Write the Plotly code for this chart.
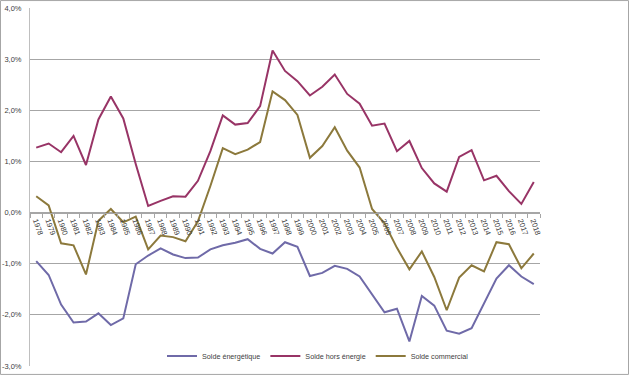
import plotly.graph_objects as go

years = [str(y) for y in range(1978, 2019)]

solde_energetique = [-0.95, -1.22, -1.80, -2.15, -2.13, -1.97, -2.20, -2.07, -1.01, -0.84,
                     -0.70, -0.82, -0.89, -0.88, -0.72, -0.64, -0.59, -0.52, -0.71, -0.80,
                     -0.58, -0.67, -1.24, -1.18, -1.04, -1.10, -1.25, -1.60, -1.95, -1.88,
                     -2.52, -1.63, -1.82, -2.31, -2.37, -2.26, -1.78, -1.29, -1.03, -1.25,
                     -1.40]

solde_hors_energie = [1.27, 1.35, 1.18, 1.50, 0.93, 1.82, 2.27, 1.84, 0.95, 0.13,
                      0.23, 0.32, 0.31, 0.62, 1.20, 1.90, 1.72, 1.75, 2.08, 3.17,
                      2.77, 2.57, 2.29, 2.46, 2.70, 2.32, 2.13, 1.70, 1.74, 1.20,
                      1.40, 0.87, 0.57, 0.41, 1.09, 1.22, 0.63, 0.72, 0.42, 0.17,
                      0.60]

solde_commercial = [0.32, 0.14, -0.60, -0.64, -1.21, -0.16, 0.07, -0.19, -0.08, -0.72,
                    -0.45, -0.48, -0.56, -0.17, 0.52, 1.26, 1.14, 1.23, 1.38, 2.37,
                    2.20, 1.91, 1.07, 1.30, 1.67, 1.21, 0.88, 0.07, -0.21, -0.69,
                    -1.11, -0.76, -1.26, -1.91, -1.27, -1.03, -1.15, -0.58, -0.62, -1.09,
                    -0.80]

series_names = ["Solde énergétique", "Solde hors énergie", "Solde commercial"]
colors = ["#6F6AA8", "#983466", "#8C793C"]

y_ticks = [-3, -2, -1, 0, 1, 2, 3, 4]
y_tick_labels = [f"{v:.1f}%".replace(".", ",") for v in y_ticks]
y_min, y_max = -3, 4

fig = go.Figure()
for name, vals, col in zip(series_names,
                           [solde_energetique, solde_hors_energie, solde_commercial],
                           colors):
    fig.add_trace(go.Scatter(x=years, y=vals, mode="lines", name=name,
                             line=dict(color=col, width=2)))

W, H = 630, 379
ml, mr, mt, mb = 30, 90, 8, 10
pw, ph = W - ml - mr, H - mt - mb

fig.update_layout(
    width=W, height=H,
    margin=dict(l=ml, r=mr, t=mt, b=mb),
    paper_bgcolor="white", plot_bgcolor="white",
    font=dict(family="Liberation Sans", size=8, color="#404040"),
    showlegend=True,
    legend=dict(orientation="h", x=(318 - ml) / pw, y=(H - mb - 359) / ph,
                xanchor="center", yanchor="middle", bgcolor="rgba(0,0,0,0)",
                font=dict(size=7.2, color="#404040"), itemwidth=30,
                tracegroupgap=0),
    xaxis=dict(type="category", anchor="free", automargin=False,
               position=(0 - y_min) / (y_max - y_min),
               showgrid=False, showline=True, linecolor="#A6A6A6", linewidth=1,
               ticks="outside", tickson="boundaries", ticklen=4,
               tickcolor="#A6A6A6", tickangle=70,
               tickfont=dict(size=7.5, color="#404040"),
               range=[-0.5, len(years) - 0.5], zeroline=False),
    yaxis=dict(range=[y_min, y_max], tickvals=y_ticks, ticktext=y_tick_labels,
               automargin=False,
               showgrid=True, gridcolor="#A6A6A6", gridwidth=1,
               showline=True, linecolor="#BFBFBF", linewidth=1,
               zeroline=False, ticks="", ticklabelstandoff=6,
               tickfont=dict(size=7.5, color="#404040")),
    shapes=[dict(type="rect", xref="paper", yref="paper",
                 x0=(0.5 - ml) / pw, x1=(628.5 - ml) / pw,
                 y0=(H - mb - 377.5) / ph, y1=(H - mb - 0.5) / ph,
                 line=dict(color="#A6A6A6", width=1), layer="below")],
)

fig.write_html("out.html",
               config={"displayModeBar": False},
               post_script="document.body.style.margin='0';document.body.style.overflow='hidden';")
